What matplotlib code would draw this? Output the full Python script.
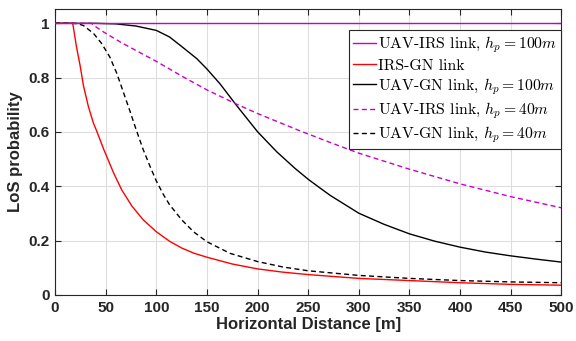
import matplotlib
matplotlib.use('Agg')
import matplotlib.pyplot as plt

# horizontal distance [m] and LoS probability
x_irs100 = [0, 500]
p_irs100 = [1, 1]

x_irsgn = [0, 17.5, 21, 25, 28, 33, 38, 41, 48, 58, 66, 76, 87, 100, 113, 125, 137, 150, 175, 200,
           225, 250, 300, 350, 400, 450, 500]
p_irsgn = [1, 1, 0.918, 0.84, 0.772, 0.693, 0.632, 0.605, 0.537, 0.448, 0.386, 0.327, 0.277, 0.233,
           0.198, 0.173, 0.154, 0.139, 0.114, 0.096, 0.084, 0.075, 0.061, 0.053, 0.045, 0.039, 0.036]

x_uavgn100 = [0, 40, 60, 80, 100, 113, 125, 140, 150, 163, 179, 200, 219, 237, 250, 262, 272, 300, 325,
              350, 375, 400, 425, 450, 475, 500]
p_uavgn100 = [1, 1, 0.998, 0.99, 0.974, 0.95, 0.915, 0.87, 0.832, 0.777, 0.699, 0.601, 0.527, 0.466, 0.426,
              0.393, 0.366, 0.301, 0.26, 0.225, 0.198, 0.176, 0.158, 0.144, 0.132, 0.121]

x_irs40 = [0, 36, 40, 48, 65, 81, 99, 114, 125, 150, 179, 200, 240, 272, 300, 350, 400, 450, 500]
p_irs40 = [1, 1, 0.988, 0.968, 0.93, 0.898, 0.862, 0.830, 0.806, 0.755, 0.703, 0.668, 0.607, 0.561,
           0.522, 0.463, 0.409, 0.362, 0.321]

x_uavgn40 = [0, 15, 22, 28, 38, 46, 54, 61, 67, 74, 80, 87, 94, 100, 107, 113, 125, 137, 150, 173,
             200, 225, 250, 300, 350, 400, 450, 500]
p_uavgn40 = [1, 1, 0.999, 0.992, 0.963, 0.926, 0.877, 0.816, 0.752, 0.677, 0.61, 0.536, 0.472, 0.42,
             0.370, 0.333, 0.277, 0.232, 0.196, 0.153, 0.123, 0.103, 0.089, 0.072, 0.061, 0.053, 0.048, 0.045]

xticks = [0, 50, 100, 150, 200, 250, 300, 350, 400, 450, 500]
yticks = [0, 0.2, 0.4, 0.6, 0.8, 1]
ytick_labels = ['0', '0.2', '0.4', '0.6', '0.8', '1']

plt.rcParams['mathtext.fontset'] = 'cm'
plt.rcParams['font.family'] = 'Liberation Sans'
dark = '#262626'
mag = '#c800c8'

fig = plt.figure(figsize=(5.76, 3.41), dpi=100)
ax = fig.add_axes([0.0955, 0.135, 0.879, 0.8385])

dash = (3.6, 2.4)
ax.plot(x_irs100, p_irs100, color=mag, lw=1.0, label=r'UAV-IRS link, $h_p = 100m$', zorder=5)
ax.plot(x_irsgn, p_irsgn, color='red', lw=1.0, label='IRS-GN link')
ax.plot(x_uavgn100, p_uavgn100, color='black', lw=1.0, label=r'UAV-GN link, $h_p = 100m$')
ax.plot(x_irs40, p_irs40, color=mag, lw=1.0, ls='--', dashes=dash, label=r'UAV-IRS link, $h_p = 40m$')
ax.plot(x_uavgn40, p_uavgn40, color='black', lw=1.0, ls='--', dashes=dash, label=r'UAV-GN link, $h_p = 40m$')

ax.set_xlim(0, 500)
ax.set_ylim(0, 1.0526)
ax.set_xticks(xticks)
ax.set_yticks(yticks)
ax.set_yticklabels(ytick_labels)
ax.grid(True, color='#dedede', lw=0.8)
ax.set_axisbelow(True)
ax.tick_params(direction='in', top=True, right=True, length=4, width=0.8, color=dark,
               labelsize=11, labelcolor=dark, pad=4)
for lab in ax.get_xticklabels() + ax.get_yticklabels():
    lab.set_fontweight('bold')
for s in ax.spines.values():
    s.set_color(dark)
    s.set_linewidth(0.8)

ax.set_xlabel('Horizontal Distance [m]', fontsize=12, fontweight='bold', color=dark, labelpad=2)
ax.set_ylabel('LoS probability', fontsize=12, fontweight='bold', color=dark, labelpad=4)

leg = ax.legend(loc='upper right', bbox_to_anchor=(1.0, 0.927), borderaxespad=0,
                prop={'family': 'cmr10', 'size': 11.3}, handlelength=1.45, handletextpad=0.1,
                labelspacing=0.22, fancybox=False, framealpha=1, borderpad=0.3)
leg.get_frame().set_edgecolor(dark)
leg.get_frame().set_linewidth(0.8)

plt.savefig('out.png', dpi=100)
